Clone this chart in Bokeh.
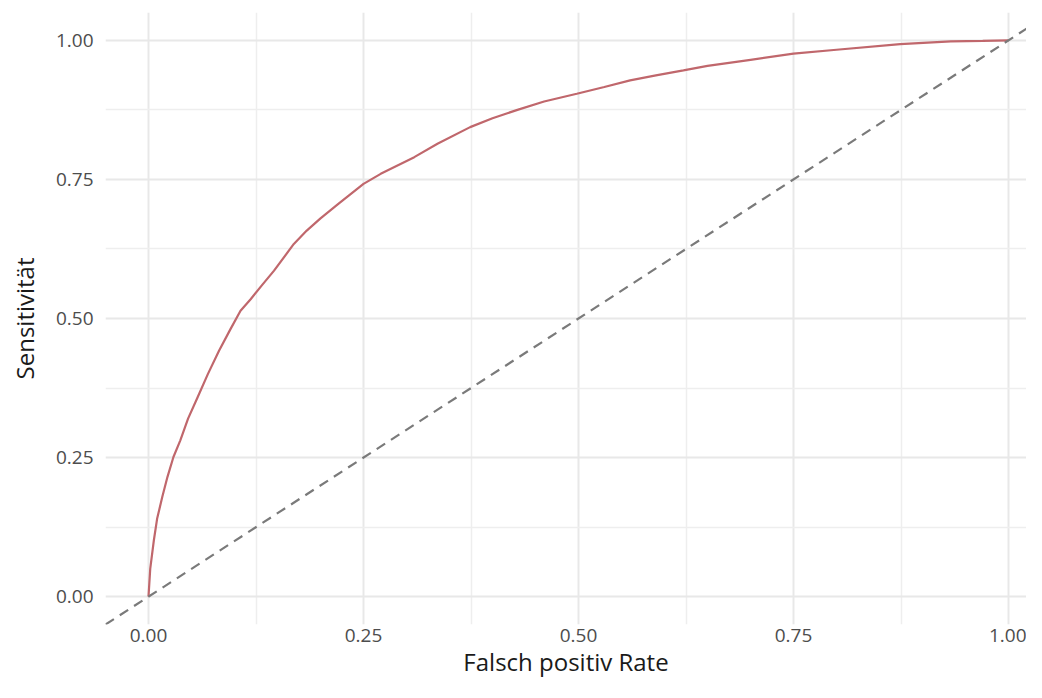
from bokeh.plotting import figure
from bokeh.models import Slope, Range1d, FixedTicker, NumeralTickFormatter
from bokeh.embed import file_html
from bokeh.resources import INLINE

# ROC curve values
fpr = [0.0, 0.002, 0.0062, 0.010, 0.016, 0.022, 0.029, 0.037, 0.046, 0.057, 0.069,
       0.082, 0.095, 0.107, 0.119, 0.132, 0.146, 0.169, 0.184, 0.20, 0.22, 0.25,
       0.27, 0.309, 0.336, 0.374, 0.40, 0.429, 0.46, 0.498, 0.53, 0.560, 0.59,
       0.622, 0.65, 0.70, 0.750, 0.80, 0.874, 0.933, 0.97, 1.0]
tpr = [0.0, 0.05, 0.101, 0.14, 0.179, 0.215, 0.251, 0.281, 0.32, 0.358, 0.40,
       0.442, 0.480, 0.514, 0.535, 0.560, 0.586, 0.634, 0.658, 0.680, 0.705, 0.742,
       0.760, 0.790, 0.814, 0.844, 0.860, 0.875, 0.890, 0.904, 0.916, 0.928, 0.937,
       0.946, 0.954, 0.965, 0.976, 0.983, 0.993, 0.998, 0.999, 1.0]

ticks = [0.0, 0.25, 0.5, 0.75, 1.0]
minor = [0.125, 0.375, 0.625, 0.875]

p = figure(width=1026, height=682, output_backend="svg", toolbar_location=None,
           x_range=Range1d(-0.05, 1.0209), y_range=Range1d(-0.05, 1.05),
           min_border_left=105, min_border_right=0, min_border_top=12,
           min_border_bottom=58)
p.outline_line_color = None
p.background_fill_color = "white"

for ax in (p.xaxis, p.yaxis):
    ax.ticker = FixedTicker(ticks=ticks, minor_ticks=minor)
    ax.formatter = NumeralTickFormatter(format="0.00")
    ax.axis_line_color = None
    ax.major_tick_line_color = None
    ax.minor_tick_line_color = None
    ax.major_tick_out = 0
    ax.minor_tick_out = 0
    ax.major_tick_in = 0
    ax.minor_tick_in = 0
    ax.major_label_text_font = "Open Sans"
    ax.major_label_text_font_size = "19px"
    ax.major_label_text_color = "#4d4d4d"
    ax.axis_label_text_font = "Open Sans"
    ax.axis_label_text_font_size = "24px"
    ax.axis_label_text_font_style = "normal"
    ax.axis_label_text_color = "#1a1a1a"

p.xaxis.axis_label = "Falsch positiv Rate"
p.yaxis.axis_label = "Sensitivität"
p.xaxis.major_label_standoff = 4
p.yaxis.major_label_standoff = 12
p.xaxis.axis_label_standoff = 0
p.yaxis.axis_label_standoff = 12

for g in (p.xgrid, p.ygrid):
    g.grid_line_color = "#e8e8e8"
    g.grid_line_width = 2
    g.minor_grid_line_color = "#eeeeee"
    g.minor_grid_line_width = 1.5

p.add_layout(Slope(gradient=1, y_intercept=0, line_color="#7a7a7a",
                   line_width=2.2, line_dash="10 7"))
p.line(fpr, tpr, line_color="#c0676c", line_width=2.2)

open("out.html", "w").write(file_html(p, INLINE))
